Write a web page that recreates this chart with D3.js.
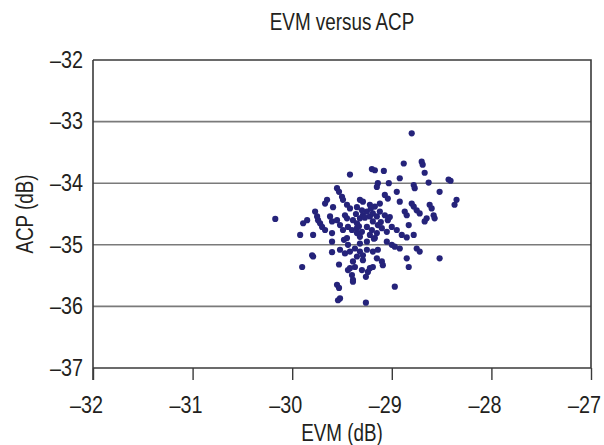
<!DOCTYPE html>
<html><head><meta charset="utf-8">
<script src="https://cdn.jsdelivr.net/npm/d3@7"></script>
<style>
html,body{margin:0;padding:0;background:#fff;}
svg text{font-family:"Liberation Sans",Arial,sans-serif;fill:#231f20;}
</style></head>
<body><svg id="chart" width="604" height="445"></svg>
<script>
const title = "EVM versus ACP";
const xLabel = "EVM (dB)";
const yLabel = "ACP (dB)";
const xTicks = [-32, -31, -30, -29, -28, -27];
const yTicks = [-37, -36, -35, -34, -33, -32];
// EVM (dB) values
const evm = [
-28.80,-28.88,-28.70,-28.69,-29.42,-29.20,-29.17,-29.08,-28.92,-28.67,
-28.43,-28.41,-29.14,-29.15,-29.03,-28.78,-28.77,-28.63,-28.52,-28.35,
-28.37,-29.55,-29.53,-29.50,-29.49,-29.65,-29.67,-29.59,-29.45,-29.42,
-29.32,-29.29,-29.22,-29.17,-29.12,-29.07,-29.04,-28.95,-28.92,-28.87,
-28.85,-28.80,-28.78,-28.75,-28.72,-28.62,-28.60,-28.58,-28.57,-28.65,
-28.67,-30.17,-29.77,-29.75,-29.74,-29.72,-29.70,-29.62,-29.60,-29.55,
-29.52,-29.47,-29.45,-29.39,-29.35,-29.32,-29.29,-29.25,-29.22,-29.19,
-29.15,-29.12,-29.07,-29.04,-29.89,-29.85,-29.92,-29.79,-29.60,-29.44,
-29.40,-29.35,-29.30,-29.25,-29.20,-29.15,-29.10,-29.05,-28.95,-28.90,
-28.83,-28.78,-29.60,-29.44,-29.32,-29.25,-29.05,-29.00,-28.97,-28.92,
-28.75,-28.72,-29.52,-29.47,-29.42,-29.32,-29.29,-29.25,-29.19,-29.14,
-29.80,-29.79,-29.60,-29.35,-29.29,-29.15,-29.10,-29.09,-28.85,-28.83,
-28.52,-29.90,-29.53,-29.44,-29.42,-29.37,-29.39,-29.40,-29.39,-29.39,
-29.30,-29.24,-29.22,-29.19,-29.26,-29.55,-29.53,-28.97,-29.52,-29.54,
-29.26,-28.85,-29.35,-29.30,-29.19,-29.14,-29.00,-29.49,-29.67,-29.35,
-29.22,-29.45,-29.32,-29.17,-29.37,-29.27,-29.11,-29.33,-29.21,-29.02,
-29.48,-29.36,-29.18
];
// ACP (dB) values
const acp = [
-33.19,-33.68,-33.65,-33.70,-33.86,-33.77,-33.79,-33.80,-33.92,-33.83,
-33.94,-33.96,-34.00,-34.06,-34.00,-34.03,-34.08,-33.99,-34.14,-34.27,
-34.35,-34.08,-34.14,-34.22,-34.27,-34.27,-34.33,-34.39,-34.35,-34.41,
-34.27,-34.30,-34.35,-34.38,-34.33,-34.19,-34.25,-34.14,-34.30,-34.46,
-34.52,-34.33,-34.38,-34.44,-34.49,-34.35,-34.41,-34.52,-34.57,-34.57,
-34.62,-34.58,-34.46,-34.54,-34.60,-34.65,-34.71,-34.54,-34.62,-34.60,
-34.68,-34.52,-34.57,-34.60,-34.65,-34.57,-34.52,-34.46,-34.54,-34.49,
-34.54,-34.46,-34.52,-34.60,-34.65,-34.60,-34.84,-34.84,-34.81,-34.71,
-34.76,-34.73,-34.79,-34.71,-34.76,-34.81,-34.73,-34.79,-34.76,-34.84,
-34.68,-34.84,-34.95,-35.00,-34.98,-34.95,-34.95,-35.00,-35.03,-35.06,
-35.06,-35.11,-35.08,-35.14,-35.11,-35.11,-35.17,-35.08,-35.11,-35.08,
-35.17,-35.19,-35.12,-35.19,-35.25,-35.22,-35.27,-35.33,-35.22,-35.36,
-35.22,-35.36,-35.32,-35.41,-35.38,-35.36,-35.27,-35.49,-35.57,-35.60,
-35.41,-35.44,-35.38,-35.36,-35.52,-35.65,-35.70,-35.68,-35.87,-35.90,
-35.94,-34.88,-34.39,-34.44,-34.62,-34.68,-34.71,-34.76,-34.76,-34.81,
-34.84,-34.89,-34.87,-34.89,-35.06,-34.56,-34.63,-34.70,-34.41,-34.55,
-34.92,-34.50,-34.90
];

const svg = d3.select("#chart");
const m = {left: 93, right: 591, top: 60, bottom: 368};
const x = d3.scaleLinear().domain([-32, -27]).range([m.left, m.right]);
const y = d3.scaleLinear().domain([-37, -32]).range([m.bottom, m.top]);
const fmt = d => String(d).replace("-", "\u2013");
const FS = 23, SX = 0.82, SXT = 0.86;

// gridlines
svg.append("g").selectAll("line").data(yTicks.filter(t => t > -37 && t < -32)).join("line")
  .attr("x1", m.left).attr("x2", m.right)
  .attr("y1", d => y(d)).attr("y2", d => y(d))
  .attr("stroke", "#7a7a7a").attr("stroke-width", 1.6);

// frame top/right
svg.append("path")
  .attr("d", `M${m.left},${m.top}H${m.right}V${m.bottom}`)
  .attr("fill", "none").attr("stroke", "#3a3a3a").attr("stroke-width", 1.6);

// x axis
const xAxis = d3.axisBottom(x).tickValues(xTicks).tickSize(12).tickFormat(fmt);
const gx = svg.append("g").attr("transform", `translate(0,${m.bottom})`).call(xAxis);
gx.select(".domain").attr("stroke", "#3a3a3a").attr("stroke-width", 1.6).attr("d", `M${m.left},0H${m.right}`);
gx.selectAll(".tick line").attr("stroke", "#3a3a3a").attr("stroke-width", 1.4);
gx.selectAll(".tick text").attr("font-size", FS).attr("fill", "#231f20")
  .attr("x", -7 / SXT).attr("y", 45).attr("dy", 0).attr("transform", `scale(${SXT},1)`);

// y axis
const yAxis = d3.axisLeft(y).tickValues(yTicks).tickSize(0).tickFormat(fmt);
const gy = svg.append("g").attr("transform", `translate(${m.left},0)`).call(yAxis);
gy.select(".domain").attr("stroke", "#3a3a3a").attr("stroke-width", 1.6).attr("d", `M0,${m.top}V${m.bottom + 12}`);
gy.selectAll(".tick text").attr("font-size", FS).attr("fill", "#231f20")
  .attr("x", -10 / SXT).attr("transform", `scale(${SXT},1)`);

// points
svg.append("g").selectAll("circle").data(evm.map((v, i) => [v, acp[i]])).join("circle")
  .attr("cx", d => x(d[0])).attr("cy", d => y(d[1])).attr("r", 3.1)
  .attr("fill", "#25237a");

// titles
const cx = (m.left + m.right) / 2;
svg.append("text").attr("transform", `translate(${cx},30) scale(${SX},1)`)
  .attr("text-anchor", "middle").attr("font-size", FS).text(title);
svg.append("text").attr("transform", `translate(${cx},441) scale(${SX},1)`)
  .attr("text-anchor", "middle").attr("font-size", FS).text(xLabel);
svg.append("text").attr("transform", `translate(33,${(m.top + m.bottom) / 2}) rotate(-90) scale(${SX},1)`)
  .attr("text-anchor", "middle").attr("font-size", FS).text(yLabel);
</script></body></html>
